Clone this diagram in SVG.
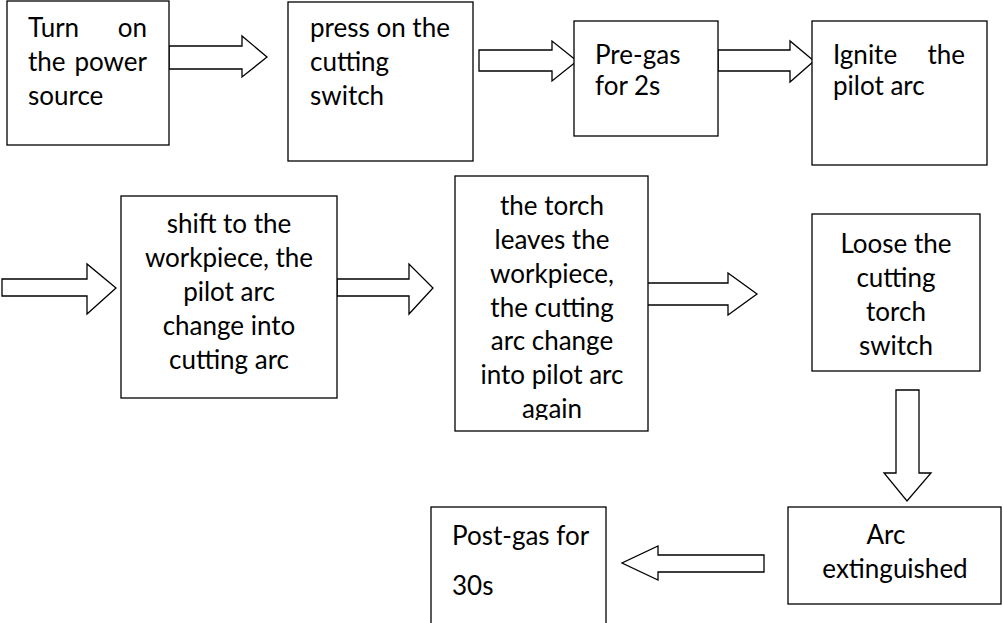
<svg xmlns="http://www.w3.org/2000/svg" width="1003" height="623" viewBox="0 0 1003 623">
<style>
.box{fill:#fff;stroke:#000;stroke-width:1.3}
.arr{fill:#fff;stroke:#000;stroke-width:1.3;stroke-linejoin:miter}
text{font-family:Lato,"Open Sans","Liberation Sans",sans-serif;font-size:26px;fill:#000}
.c{text-anchor:middle}
.r{text-anchor:end}
</style>
<defs>
<clipPath id="clip6"><rect x="455" y="176" width="193" height="244"/></clipPath>
</defs>
<rect width="1003" height="623" fill="#fff"/>
<g id="connectors">
<polygon class="arr" points="169,46 242,46 242,36 267,57 242,77 242,69 169,69"/>
<polygon class="arr" points="479,50 552,50 552,41 577,61 552,81 552,71 479,71"/>
<polygon class="arr" points="718,50 790,50 790,41 814,61 790,82 790,71 718,71"/>
<polygon class="arr" points="2,279 87,279 87,264 116,288 87,314 87,296 2,296"/>
<polygon class="arr" points="337,279 409,279 409,264 433,288 409,314 409,296 337,296"/>
<polygon class="arr" points="645,283 728,283 728,273 757,294 728,315 728,305 645,305"/>
<polygon class="arr" points="896,390 919,390 919,473 931,473 907,501 884,473 896,473"/>
<polygon class="arr" points="764,555 658,555 658,546 622,563 658,580 658,572 764,572"/>
</g>
<g id="n1">
<rect class="box" x="7" y="1" width="162" height="144"/>
<text x="28" y="37">Turn</text><text class="r" x="147" y="37">on</text>
<text x="28" y="71">the</text><text class="r" x="147" y="71">power</text>
<text x="28" y="105">source</text>
</g>
<g id="n2">
<rect class="box" x="288" y="2" width="185" height="159"/>
<text x="310" y="37">press on the</text>
<text x="310" y="71">cutting</text>
<text x="310" y="105">switch</text>
</g>
<g id="n3">
<rect class="box" x="574" y="21" width="144" height="115"/>
<text x="595" y="64">Pre-gas</text>
<text x="595" y="95">for 2s</text>
</g>
<g id="n4">
<rect class="box" x="812" y="21" width="175" height="144"/>
<text x="833" y="64">Ignite</text><text class="r" x="965" y="64">the</text>
<text x="833" y="95">pilot arc</text>
</g>
<g id="n5">
<rect class="box" x="121" y="196" width="216" height="202"/>
<text class="c" x="229" y="233">shift to the</text>
<text class="c" x="229" y="267">workpiece, the</text>
<text class="c" x="229" y="301">pilot arc</text>
<text class="c" x="229" y="335">change into</text>
<text class="c" x="229" y="369">cutting arc</text>
</g>
<g id="n6">
<rect class="box" x="455" y="176" width="193" height="255"/>
<g clip-path="url(#clip6)">
<text class="c" x="552" y="215">the torch</text>
<text class="c" x="552" y="249">leaves the</text>
<text class="c" x="552" y="283">workpiece,</text>
<text class="c" x="552" y="317">the cutting</text>
<text class="c" x="552" y="350">arc change</text>
<text class="c" x="552" y="384">into pilot arc</text>
<text class="c" x="552" y="418">again</text>
</g>
</g>
<g id="n7">
<rect class="box" x="812" y="214" width="168" height="157"/>
<text class="c" x="896" y="253">Loose the</text>
<text class="c" x="896" y="287">cutting</text>
<text class="c" x="896" y="321">torch</text>
<text class="c" x="896" y="355">switch</text>
</g>
<g id="n8">
<rect class="box" x="788" y="507" width="213" height="97"/>
<text class="c" x="886" y="544">Arc</text>
<text class="c" x="895" y="578">extinguished</text>
</g>
<g id="n9">
<rect class="box" x="431" y="507" width="175" height="130"/>
<text x="452" y="545">Post-gas for</text>
<text x="452" y="595">30s</text>
</g>
</svg>
